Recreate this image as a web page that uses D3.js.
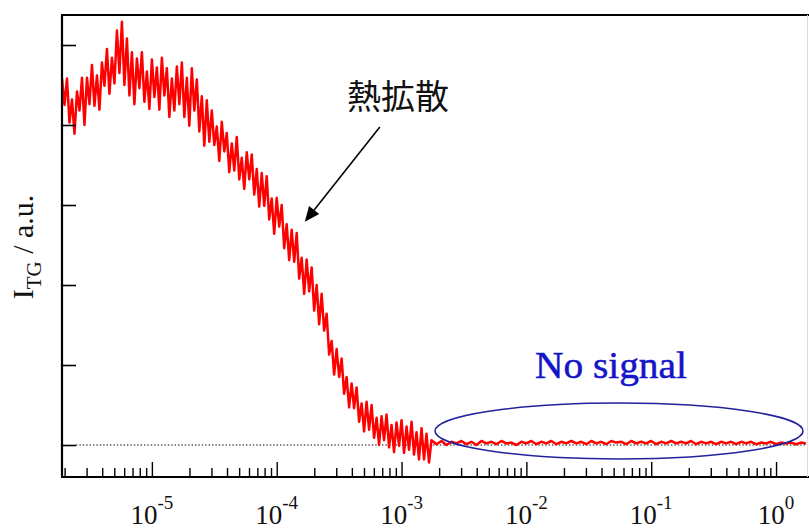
<!DOCTYPE html>
<html><head><meta charset="utf-8">
<script src="https://cdn.jsdelivr.net/npm/d3@7"></script>
<style>body{margin:0;background:#fff}svg{display:block}</style>
</head><body><svg id="c" width="809" height="531"></svg>
<script>
// log10 of time (s)
const logTime = [
-5.72,-5.70,-5.68,-5.66,-5.64,-5.62,-5.60,-5.58,-5.56,-5.54,
-5.52,-5.50,-5.48,-5.46,-5.44,-5.42,-5.40,-5.38,-5.36,-5.34,
-5.32,-5.30,-5.28,-5.26,-5.24,-5.22,-5.20,-5.18,-5.16,-5.14,
-5.12,-5.10,-5.08,-5.06,-5.04,-5.02,-5.00,-4.98,-4.96,-4.94,
-4.92,-4.90,-4.88,-4.86,-4.84,-4.82,-4.80,-4.78,-4.76,-4.74,
-4.72,-4.70,-4.68,-4.66,-4.64,-4.62,-4.60,-4.58,-4.56,-4.54,
-4.52,-4.50,-4.48,-4.46,-4.44,-4.42,-4.40,-4.38,-4.36,-4.34,
-4.32,-4.30,-4.28,-4.26,-4.24,-4.22,-4.20,-4.18,-4.16,-4.14,
-4.12,-4.10,-4.08,-4.06,-4.04,-4.02,-4.00,-3.98,-3.96,-3.94,
-3.92,-3.90,-3.88,-3.86,-3.84,-3.82,-3.80,-3.78,-3.76,-3.74,
-3.72,-3.70,-3.68,-3.66,-3.64,-3.62,-3.60,-3.58,-3.56,-3.54,
-3.52,-3.50,-3.48,-3.46,-3.44,-3.42,-3.40,-3.38,-3.36,-3.34,
-3.32,-3.30,-3.28,-3.26,-3.24,-3.22,-3.20,-3.18,-3.16,-3.14,
-3.12,-3.10,-3.08,-3.06,-3.04,-3.02,-3.00,-2.98,-2.96,-2.94,
-2.92,-2.90,-2.88,-2.86,-2.84,-2.82,-2.80,-2.78,
-2.76,-2.72,-2.68,-2.64,-2.60,-2.56,-2.52,-2.48,-2.44,-2.40,
-2.36,-2.32,-2.28,-2.24,-2.20,-2.16,-2.12,-2.08,-2.04,-2.00,
-1.96,-1.92,-1.88,-1.84,-1.80,-1.76,-1.72,-1.68,-1.64,-1.60,
-1.56,-1.52,-1.48,-1.44,-1.40,-1.36,-1.32,-1.28,-1.24,-1.20,
-1.16,-1.12,-1.08,-1.04,-1.00,-0.96,-0.92,-0.88,-0.84,-0.80,
-0.76,-0.72,-0.68,-0.64,-0.60,-0.56,-0.52,-0.48,-0.44,-0.40,
-0.36,-0.32,-0.28,-0.24,-0.20,-0.16,-0.12,-0.08,-0.04,0.00,
0.04,0.08,0.12,0.16,0.20,0.24
];
// I_TG signal (a.u.)
const signal = [
4.58,4.25,4.58,4.03,4.32,3.89,4.42,4.18,4.59,4.00,
4.59,4.26,4.75,4.24,4.62,4.19,4.78,4.49,4.95,4.39,
4.84,4.52,5.18,4.65,5.29,4.50,5.08,4.37,4.91,4.26,
4.83,4.46,4.91,4.29,4.67,4.20,4.82,4.35,4.72,4.19,
4.84,4.37,4.71,4.10,4.58,4.18,4.73,4.26,4.78,4.10,
4.59,3.99,4.71,4.18,4.57,3.92,4.36,3.74,4.31,3.79,
4.18,3.75,3.98,3.55,4.04,3.67,3.90,3.41,3.77,3.43,
3.85,3.32,3.59,3.20,3.66,3.32,3.63,3.13,3.45,2.98,
3.40,2.99,3.36,2.82,3.08,2.64,3.09,2.73,3.00,2.46,
2.76,2.31,2.69,2.29,2.65,2.08,2.34,1.89,2.32,1.92,
2.22,1.68,2.00,1.51,1.89,1.43,1.64,1.13,1.30,0.88,
1.20,0.85,1.08,0.64,0.85,0.47,0.77,0.46,0.72,0.29,
0.52,0.17,0.54,0.19,0.50,0.09,0.34,0.00,0.36,0.06,
0.38,-0.03,0.25,-0.09,0.28,-0.01,0.31,-0.10,0.23,-0.06,
0.29,-0.12,0.16,-0.18,0.21,-0.18,0.14,-0.22,
0.06,0.01,0.05,0.00,0.04,0.02,0.05,0.01,0.04,0.00,
0.05,0.02,0.04,0.01,0.05,0.02,0.03,0.00,0.04,0.02,
0.05,0.01,0.04,0.02,0.05,0.01,0.04,0.02,0.05,0.02,
0.04,0.01,0.05,0.02,0.04,0.01,0.05,0.03,0.04,0.01,
0.05,0.02,0.04,0.02,0.05,0.01,0.04,0.02,0.05,0.02,
0.04,0.02,0.05,0.01,0.04,0.02,0.04,0.01,0.04,0.02,
0.04,0.01,0.04,0.02,0.04,0.01,0.03,0.02,0.04,0.01,
0.03,0.02,0.03,0.01,0.03,0.02
];
const yTicks = [0, 1, 2, 3, 4, 5];
const xDecades = [-5, -4, -3, -2, -1, 0];
const xTickExponents = ["-5", "-4", "-3", "-2", "-1", "0"];
const yLabelMain = "I", yLabelSub = "TG", yLabelRest = " / a.u.";
const annotationText = "熱拡散";
const noSignalText = "No signal";

const mLeft = 62, mRight = 807, mTop = 15, mBottom = 477;
const x = d3.scaleLog().domain([Math.pow(10, -5.72), Math.pow(10, 0.248)]).range([mLeft, mRight]);
const y = d3.scaleLinear().domain([-0.4, 5.375]).range([mBottom, mTop]);
const svg = d3.select("#c");
const serif = "'Liberation Serif','Times New Roman',serif";

svg.append("defs").append("clipPath").attr("id", "clip")
  .append("rect").attr("x", mLeft).attr("y", mTop).attr("width", mRight - mLeft).attr("height", mBottom - mTop);

// dotted zero line
svg.append("line").attr("x1", mLeft + 14).attr("x2", mRight).attr("y1", y(0)).attr("y2", y(0))
  .attr("stroke", "#000").attr("stroke-width", 1.2).attr("stroke-dasharray", "1.4,2");

// trace
const pts = logTime.map((lt, i) => [Math.pow(10, lt), signal[i]]);
svg.append("path").datum(pts).attr("clip-path", "url(#clip)")
  .attr("d", d3.line().x(d => x(d[0])).y(d => y(d[1])))
  .attr("fill", "none").attr("stroke", "#ff0000").attr("stroke-width", 2.5)
  .attr("stroke-linejoin", "round");

// ellipse "no signal"
const eL = x(Math.pow(10, -2.732)), eR = x(Math.pow(10, 0.216));
svg.append("ellipse")
  .attr("cx", (eL + eR) / 2).attr("cy", y(0.175))
  .attr("rx", (eR - eL) / 2).attr("ry", y(0) - y(0.35))
  .attr("fill", "none").attr("stroke", "#22229c").attr("stroke-width", 1.5);

svg.append("text").attr("x", x(0.01172)).attr("y", y(0.84))
  .attr("font-family", serif).attr("font-size", 38).attr("fill", "#1414c8")
  .attr("stroke", "#1414c8").attr("stroke-width", 0.5)
  .attr("textLength", 152).attr("lengthAdjust", "spacingAndGlyphs")
  .text(noSignalText);

// annotation
svg.append("text").attr("x", x(3.65e-4)).attr("y", y(4.2))
  .attr("font-family", "'Noto Sans CJK JP',sans-serif").attr("font-size", 34).attr("fill", "#111")
  .text(annotationText);
const ax1 = x(6.7e-4), ay1 = y(3.975), ax2 = x(1.68e-4), ay2 = y(2.79);
const ang = Math.atan2(ay2 - ay1, ax2 - ax1);
const hl = 15, hw = 6.5;
const bx = ax2 - hl * Math.cos(ang), by = ay2 - hl * Math.sin(ang);
svg.append("line").attr("x1", ax1).attr("y1", ay1).attr("x2", bx).attr("y2", by)
  .attr("stroke", "#000").attr("stroke-width", 1.6);
svg.append("path")
  .attr("d", `M${ax2},${ay2}L${bx + hw * Math.sin(ang)},${by - hw * Math.cos(ang)}L${bx - hw * Math.sin(ang)},${by + hw * Math.cos(ang)}Z`)
  .attr("fill", "#000");

// y axis ticks
const yAxis = svg.append("g").attr("transform", `translate(${mLeft},0)`)
  .call(d3.axisLeft(y).tickValues(yTicks).tickSizeInner(-14).tickSizeOuter(0).tickFormat(""));
yAxis.select(".domain").remove();
yAxis.selectAll("line").attr("stroke", "#000").attr("stroke-width", 1.6);

// x axis ticks
const majorVals = xDecades.map(d => Math.pow(10, d));
const minorVals = x.ticks().filter(v => {
  const l = Math.log10(v);
  return Math.abs(l - Math.round(l)) > 1e-9 && v >= x.domain()[0] && v <= x.domain()[1];
});
const xMinor = svg.append("g").attr("transform", `translate(0,${mBottom})`)
  .call(d3.axisBottom(x).tickValues(minorVals).tickSizeInner(-9).tickSizeOuter(0).tickFormat(""));
xMinor.select(".domain").remove();
xMinor.selectAll("line").attr("stroke", "#000").attr("stroke-width", 1.4);
const xMajor = svg.append("g").attr("transform", `translate(0,${mBottom})`)
  .call(d3.axisBottom(x).tickValues(majorVals).tickSizeInner(-15).tickSizeOuter(0).tickFormat(""));
xMajor.select(".domain").remove();
xMajor.selectAll("line").attr("stroke", "#000").attr("stroke-width", 1.4);

xDecades.forEach((d, i) => {
  const t = svg.append("text").attr("x", x(Math.pow(10, d))).attr("y", 524)
    .attr("text-anchor", "middle").attr("font-family", serif).attr("fill", "#111");
  t.append("tspan").attr("font-size", 27).text("10");
  t.append("tspan").attr("font-size", 19).attr("dy", -15).text(xTickExponents[i]);
});

// frame
svg.append("line").attr("x1", mLeft - 1).attr("x2", 809).attr("y1", mTop).attr("y2", mTop).attr("stroke", "#000").attr("stroke-width", 2.2);
svg.append("line").attr("x1", mLeft).attr("x2", mLeft).attr("y1", mTop).attr("y2", mBottom).attr("stroke", "#000").attr("stroke-width", 2.2);
svg.append("line").attr("x1", mLeft - 1).attr("x2", 809).attr("y1", mBottom).attr("y2", mBottom).attr("stroke", "#000").attr("stroke-width", 2.2);
svg.append("line").attr("x1", 807.5).attr("x2", 807.5).attr("y1", mTop).attr("y2", mBottom).attr("stroke", "#ddd").attr("stroke-width", 1);

// y label
const yl = svg.append("text").attr("transform", `translate(33,247) rotate(-90)`)
  .attr("text-anchor", "middle").attr("font-family", serif).attr("fill", "#111");
yl.append("tspan").attr("font-size", 30).text(yLabelMain);
yl.append("tspan").attr("font-size", 21).attr("dy", 8).text(yLabelSub);
yl.append("tspan").attr("font-size", 30).attr("dy", -8).text(yLabelRest);
</script>
</body></html>
